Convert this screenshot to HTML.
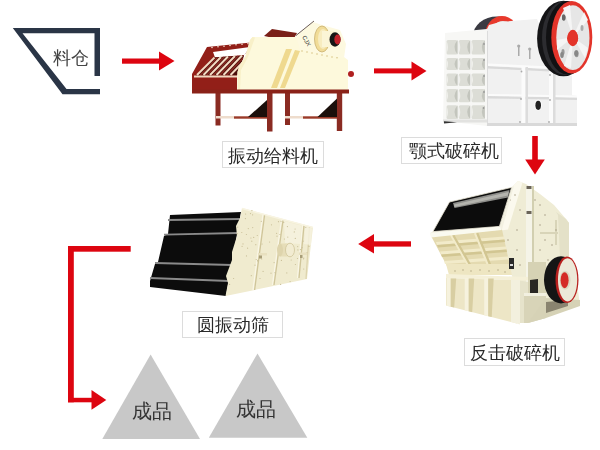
<!DOCTYPE html>
<html><head><meta charset="utf-8">
<style>
html,body{margin:0;padding:0;background:#fff;width:600px;height:450px;overflow:hidden;}
body{position:relative;font-family:"Liberation Sans",sans-serif;}
.lbl{position:absolute;box-sizing:border-box;border:1px solid #dcdcdc;background:#fff;color:#2a2a2a;font-size:18px;line-height:1;text-align:center;white-space:nowrap;}
.lbl span{position:absolute;left:0;right:0;will-change:transform;}
.t{position:absolute;color:#333;font-size:16px;line-height:1;white-space:nowrap;will-change:transform;}
svg{position:absolute;left:0;top:0;}
</style></head><body>
<svg width="600" height="450" viewBox="0 0 600 450">
  <!-- hopper -->
  <g fill="#2a3546">
    <polygon points="12.8,28 100,28 100,33.2 22.5,33.2 66.5,89 100,89 100,94.2 62.5,94.2"/>
    <rect x="94.5" y="28" width="5.5" height="48"/>
  </g>
  <!-- arrows -->
  <g fill="#dd0510">
    <rect x="122" y="58.5" width="38" height="5.2"/>
    <polygon points="159,51.5 174.5,61 159,70.5"/>
    <rect x="374" y="68.4" width="38" height="5"/>
    <polygon points="411.5,61.4 426.5,71 411.5,80.4"/>
    <rect x="532.2" y="136" width="5.6" height="24"/>
    <polygon points="525.2,159.4 544.8,159.4 535,174.5"/>
    <rect x="373.5" y="241.3" width="37.5" height="5.3"/>
    <polygon points="374,234 358.2,244 374,253.6"/>
    <rect x="68" y="246" width="62.7" height="5.7"/>
    <rect x="68" y="246" width="5.8" height="156.3"/>
    <rect x="68" y="397.8" width="24" height="4.5"/>
    <polygon points="91.5,390 106.3,400 91.5,409.8"/>
  </g>

  <!-- FEEDER -->
  <g id="feeder">
    <!-- legs -->
    <g fill="#8a2b22">
      <rect x="215.5" y="92" width="5" height="33.5"/>
      <rect x="267" y="92" width="5.5" height="39.5"/>
      <rect x="285" y="92" width="5" height="33"/>
      <rect x="336.8" y="92" width="5.4" height="39"/>
    </g>
    <g fill="#eedccc">
      <rect x="216" y="116" width="18" height="2.5"/>
      <rect x="285" y="116" width="18" height="2.5"/>
    </g>
    <g fill="#9a3a28">
      <rect x="234" y="116.3" width="33" height="2.4"/>
      <rect x="303" y="116.3" width="34" height="2.4"/>
    </g>
    <g fill="#1a0f0b">
      <polygon points="248,117 267,100 267,117"/>
      <polygon points="317.5,117 337,98.4 337,117"/>
    </g>
    <!-- red trough -->
    <polygon fill="#921f18" points="192,74 207,47 251,42.5 251,48 244,55 237,76 237,90 192,90"/>
    <polygon fill="#fff" points="213,52 250,47 244.5,55 215,57.5"/>
    <polygon fill="#4a0e0a" points="196,75.5 213,57.5 244,55.5 237,75.5"/>
    <g stroke="#f3dcc4" stroke-width="2" stroke-linecap="butt">
      <line x1="197" y1="75" x2="214.5" y2="57.5"/>
      <line x1="203.5" y1="75" x2="221" y2="57"/>
      <line x1="210" y1="75" x2="228" y2="56.5"/>
      <line x1="216.5" y1="75" x2="235" y2="56"/>
      <line x1="223.5" y1="75" x2="242" y2="55.5"/>
      <line x1="230.5" y1="75" x2="244" y2="61"/>
    </g>
    <g stroke="#8c2a22" stroke-width="1.3">
      <line x1="200" y1="75.5" x2="217.5" y2="57.5"/>
      <line x1="206.5" y1="75.5" x2="224" y2="57"/>
      <line x1="213" y1="75.5" x2="231" y2="56.5"/>
      <line x1="219.5" y1="75.5" x2="238" y2="56"/>
      <line x1="226.5" y1="75.5" x2="243" y2="58"/>
    </g>
    <rect x="194" y="75.5" width="43" height="2" fill="#f0d8c0"/>
    <g fill="#f5e3d0">
      <circle cx="212" cy="47.5" r="0.8"/><circle cx="218" cy="46.8" r="0.8"/><circle cx="224" cy="46.2" r="0.8"/>
      <circle cx="230" cy="45.5" r="0.8"/><circle cx="236" cy="44.8" r="0.8"/><circle cx="242" cy="44.2" r="0.8"/><circle cx="248" cy="43.6" r="0.8"/>
    </g>
    <!-- rear plate -->
    <polygon fill="#7a2018" points="264,36 272,29 297,33 292,42"/>
    <!-- cream body -->
    <polygon fill="#fdf9dc" points="237.5,72 239,67 245.5,56 250,40 252.5,37 296,37 344,57 348,60 348,90 237.5,90"/>
    <polygon fill="#f8f0c8" points="237.5,72 239,67 245.5,56 250,40 252.5,37 255,37.5 248,57 241,70 240,90 237.5,90"/>
    <!-- diagonal stripes -->
    <polygon fill="#efd98f" points="271,88 286,49 292,49 277,88"/>
    <polygon fill="#efd98f" points="280,88 295,50 300,51 285,88"/>
    <!-- motor -->
    <polygon fill="#fdf9e0" points="296,36 313,22 322,25 340,30 346,44 344,58 300,50"/>
    <line x1="296" y1="35.5" x2="314" y2="21" stroke="#5a4a44" stroke-width="0.9"/>
    <ellipse cx="322" cy="39" rx="7.5" ry="13" fill="#f1dc98" stroke="#c9b070" stroke-width="0.8"/>
    <ellipse cx="323" cy="39" rx="5" ry="10" fill="#f7ecc0"/>
    <rect x="322" y="31" width="12" height="16" fill="#fbf5d6"/>
    <ellipse cx="335" cy="39.5" rx="5.5" ry="7.2" fill="#161616"/>
    <ellipse cx="337.5" cy="39.5" rx="3.2" ry="5" fill="#c0202a"/>
    <text x="303" y="41" font-size="6" fill="#333" font-family="Liberation Sans" transform="rotate(60 306 38)">CJX</text>
    <g fill="#d8c48a">
      <circle cx="302" cy="51" r="0.8"/><circle cx="307" cy="52" r="0.8"/><circle cx="312" cy="53" r="0.8"/><circle cx="317" cy="54" r="0.8"/>
      <circle cx="322" cy="55" r="0.8"/><circle cx="327" cy="56" r="0.8"/><circle cx="332" cy="57" r="0.8"/><circle cx="337" cy="57.8" r="0.8"/>
    </g>
    <circle cx="351" cy="74" r="3" fill="#b02020"/>
    <!-- bottom rail -->
    <rect x="192" y="89.5" width="157" height="4" fill="#8a2218"/>
  </g>

  <!-- JAW CRUSHER -->
  <g id="jaw">
    <!-- small back flywheel -->
    <ellipse cx="497" cy="36" rx="24" ry="19.5" fill="#3a3a42"/>
    <ellipse cx="502" cy="35.5" rx="17" ry="19.5" fill="#e8392c"/>
    <ellipse cx="503" cy="37" rx="13.5" ry="16" fill="#e6e6e6"/>
    <!-- side body -->
    <polygon fill="#f1f1f1" points="486,31 489,25 500,22 537,19 560,72 572,76 572,95 577,96 577,126 486,126"/>
    <g fill="#d9d9d9">
      <polygon points="488,66 572,70 572,72.5 488,68.5"/>
      <polygon points="488,96 577,97.5 577,100 488,98.5"/>
      <rect x="486" y="123" width="91" height="3"/>
    </g>
    <g fill="#fbfbfb">
      <polygon points="488,63.5 572,67.5 572,70 488,66"/>
      <polygon points="488,94 577,95.5 577,97.5 488,96"/>
      <rect x="521.5" y="67" width="4" height="56"/>
      <rect x="549" y="71" width="4" height="52"/>
    </g>
    <g fill="#dcdcdc">
      <rect x="525.5" y="67" width="2.5" height="56"/>
      <rect x="553" y="71" width="2.5" height="52"/>
      <rect x="486" y="31" width="2" height="92"/>
    </g>
    <g fill="#aaa">
      <rect x="518" y="46" width="1.5" height="10"/><circle cx="518.7" cy="46" r="1.6"/>
      <rect x="529" y="49" width="1.5" height="10"/><circle cx="529.7" cy="49" r="1.6"/>
      <circle cx="521.5" cy="71.5" r="0.9"/><circle cx="550" cy="75" r="0.9"/><circle cx="521" cy="99" r="0.9"/><circle cx="550" cy="100" r="0.9"/>
      <circle cx="520" cy="122" r="0.9"/><circle cx="549" cy="122" r="0.9"/>
    </g>
    <ellipse cx="538.2" cy="105" rx="3.8" ry="5.6" fill="#fafafa"/>
    <ellipse cx="538.2" cy="105.3" rx="2.8" ry="4.6" fill="#222"/>
    <!-- front grid face -->
    <polygon fill="#f7f7f5" points="445,33 487,29 487,126 443,121"/>
    <g>
      <rect x="446.5" y="40" width="11.0" height="14.5" rx="1.5" fill="#dcddd6"/>
      <path d="M457.5,40 Q451.5,47.2 457.5,54.5 Z" fill="#c3c5bd"/>
      <path d="M446.5,41 Q449.5,47.2 446.5,53.5 Z" fill="#f0f0ec"/>
      <rect x="458.8" y="40" width="11.4" height="14.5" rx="1.5" fill="#dcddd6"/>
      <path d="M470.2,40 Q464.2,47.2 470.2,54.5 Z" fill="#c3c5bd"/>
      <path d="M458.8,41 Q461.8,47.2 458.8,53.5 Z" fill="#f0f0ec"/>
      <rect x="471.5" y="40" width="13.3" height="14.5" rx="1.5" fill="#dcddd6"/>
      <path d="M484.8,40 Q478.8,47.2 484.8,54.5 Z" fill="#c3c5bd"/>
      <path d="M471.5,41 Q474.5,47.2 471.5,53.5 Z" fill="#f0f0ec"/>
      <rect x="446.5" y="58" width="11.0" height="12.0" rx="1.5" fill="#dcddd6"/>
      <path d="M457.5,58 Q451.5,64.0 457.5,70 Z" fill="#c3c5bd"/>
      <path d="M446.5,59 Q449.5,64.0 446.5,69 Z" fill="#f0f0ec"/>
      <rect x="458.8" y="58" width="11.4" height="12.0" rx="1.5" fill="#dcddd6"/>
      <path d="M470.2,58 Q464.2,64.0 470.2,70 Z" fill="#c3c5bd"/>
      <path d="M458.8,59 Q461.8,64.0 458.8,69 Z" fill="#f0f0ec"/>
      <rect x="471.5" y="58" width="13.3" height="12.0" rx="1.5" fill="#dcddd6"/>
      <path d="M484.8,58 Q478.8,64.0 484.8,70 Z" fill="#c3c5bd"/>
      <path d="M471.5,59 Q474.5,64.0 471.5,69 Z" fill="#f0f0ec"/>
      <rect x="446.5" y="73.5" width="11.0" height="12.5" rx="1.5" fill="#dcddd6"/>
      <path d="M457.5,73.5 Q451.5,79.8 457.5,86 Z" fill="#c3c5bd"/>
      <path d="M446.5,74.5 Q449.5,79.8 446.5,85 Z" fill="#f0f0ec"/>
      <rect x="458.8" y="73.5" width="11.4" height="12.5" rx="1.5" fill="#dcddd6"/>
      <path d="M470.2,73.5 Q464.2,79.8 470.2,86 Z" fill="#c3c5bd"/>
      <path d="M458.8,74.5 Q461.8,79.8 458.8,85 Z" fill="#f0f0ec"/>
      <rect x="471.5" y="73.5" width="13.3" height="12.5" rx="1.5" fill="#dcddd6"/>
      <path d="M484.8,73.5 Q478.8,79.8 484.8,86 Z" fill="#c3c5bd"/>
      <path d="M471.5,74.5 Q474.5,79.8 471.5,85 Z" fill="#f0f0ec"/>
      <rect x="446.5" y="89" width="11.0" height="13.3" rx="1.5" fill="#dcddd6"/>
      <path d="M457.5,89 Q451.5,95.7 457.5,102.3 Z" fill="#c3c5bd"/>
      <path d="M446.5,90 Q449.5,95.7 446.5,101.3 Z" fill="#f0f0ec"/>
      <rect x="458.8" y="89" width="11.4" height="13.3" rx="1.5" fill="#dcddd6"/>
      <path d="M470.2,89 Q464.2,95.7 470.2,102.3 Z" fill="#c3c5bd"/>
      <path d="M458.8,90 Q461.8,95.7 458.8,101.3 Z" fill="#f0f0ec"/>
      <rect x="471.5" y="89" width="13.3" height="13.3" rx="1.5" fill="#dcddd6"/>
      <path d="M484.8,89 Q478.8,95.7 484.8,102.3 Z" fill="#c3c5bd"/>
      <path d="M471.5,90 Q474.5,95.7 471.5,101.3 Z" fill="#f0f0ec"/>
      <rect x="446.5" y="105.2" width="11.0" height="13.8" rx="1.5" fill="#dcddd6"/>
      <path d="M457.5,105.2 Q451.5,112.1 457.5,119 Z" fill="#c3c5bd"/>
      <path d="M446.5,106.2 Q449.5,112.1 446.5,118 Z" fill="#f0f0ec"/>
      <rect x="458.8" y="105.2" width="11.4" height="13.8" rx="1.5" fill="#dcddd6"/>
      <path d="M470.2,105.2 Q464.2,112.1 470.2,119 Z" fill="#c3c5bd"/>
      <path d="M458.8,106.2 Q461.8,112.1 458.8,118 Z" fill="#f0f0ec"/>
      <rect x="471.5" y="105.2" width="13.3" height="13.8" rx="1.5" fill="#dcddd6"/>
      <path d="M484.8,105.2 Q478.8,112.1 484.8,119 Z" fill="#c3c5bd"/>
      <path d="M471.5,106.2 Q474.5,112.1 471.5,118 Z" fill="#f0f0ec"/>
    </g>
    <rect x="443" y="119.5" width="44" height="3" fill="#e2e2e0"/>
    <polygon fill="#333" points="444,121.3 457,122.3 444,123.5"/>
    <g fill="#999"><circle cx="484" cy="44" r="0.9"/><circle cx="484" cy="60" r="0.9"/><circle cx="484" cy="76" r="0.9"/><circle cx="484" cy="92" r="0.9"/><circle cx="483.5" cy="108" r="0.9"/></g>
    <!-- flywheel -->
    <ellipse cx="563.5" cy="38.5" rx="26.4" ry="37.8" fill="#141416"/>
    <ellipse cx="565" cy="38" rx="23" ry="37" fill="#2c2c30"/>
    <ellipse cx="567" cy="37.6" rx="21" ry="36.6" fill="#111113"/>
    <ellipse cx="571.8" cy="37.2" rx="20.5" ry="36.3" fill="#e3342a"/>
    <ellipse cx="572.9" cy="37.7" rx="16.6" ry="32.4" fill="#e6e6e6"/>
    <g fill="#f5f5f5">
      <polygon points="573,37 563,8 570,5"/>
      <polygon points="573,37 584,12 588,20"/>
      <polygon points="573,37 588,48 585,58"/>
      <polygon points="573,37 571,68 564,66"/>
      <polygon points="573,37 557,50 557,40"/>
    </g>
    <ellipse cx="563.6" cy="17.3" rx="1.6" ry="3" fill="#777"/>
    <ellipse cx="576.6" cy="53.7" rx="2" ry="3.5" fill="#999"/>
    <ellipse cx="563" cy="52" rx="1.6" ry="3" fill="#999"/>
    <ellipse cx="582" cy="28" rx="1.5" ry="3" fill="#aaa"/>
    <ellipse cx="572.8" cy="38" rx="5.2" ry="8.2" fill="#e3342a"/>
    <g fill="#b02020"><circle cx="572" cy="35" r="0.8"/><circle cx="574.5" cy="38" r="0.8"/><circle cx="572" cy="41" r="0.8"/></g>
  </g>
    <ellipse cx="563.8" cy="17.8" rx="1.8" ry="3" fill="#666"/>
    <ellipse cx="576.2" cy="53.3" rx="2" ry="3" fill="#888"/>
    <ellipse cx="562" cy="55" rx="1.8" ry="3" fill="#888"/>
    <ellipse cx="572.6" cy="38.2" rx="5.5" ry="7.3" fill="#e3342a"/>
  </g>
  <!-- IMPACT CRUSHER -->
  <g id="impact">
    <!-- side panel -->
    <polygon fill="#efecd5" points="497,231 512,187 518,181 526,184 540,194 554,205 566,219 569,223 569,258 578,290 580,306 534,297 534,320 517,323 513,279"/>
    <polygon fill="#fbf9ee" points="498,231 511.6,187.4 518,181 522.5,182.5 508,229.5"/>
    <polygon fill="#e4e1c8" points="556,212 566,219 569,223 569,258 560,258 558,215"/>
    <rect x="526" y="186" width="6" height="100" fill="#f5f4e8"/>
    <rect x="532" y="186" width="2" height="100" fill="#d2cfb0"/>
    <rect x="526.5" y="186" width="5" height="3" fill="#6a6458"/>
    <rect x="526.5" y="211" width="5" height="3" fill="#6a6458"/>
    <rect x="540" y="232" width="18" height="2" fill="#d8d4b8"/>
    <rect x="555" y="220" width="2" height="25" fill="#d8d4b8"/>
    <g fill="#a8a088"><circle cx="505" cy="215" r="0.8"/><circle cx="510" cy="200" r="0.8"/><circle cx="508" cy="240" r="0.8"/><circle cx="517" cy="230" r="0.8"/><circle cx="517" cy="250" r="0.8"/><circle cx="540" cy="205" r="0.8"/><circle cx="545" cy="215" r="0.8"/><circle cx="540" cy="225" r="0.8"/><circle cx="545" cy="240" r="0.8"/><circle cx="540" cy="250" r="0.8"/><circle cx="520" cy="210" r="0.8"/><circle cx="537" cy="265" r="0.8"/><circle cx="548" cy="260" r="0.8"/><circle cx="520" cy="265" r="0.8"/><circle cx="515" cy="195" r="0.8"/><circle cx="535" cy="200" r="0.8"/><circle cx="552" cy="245" r="0.8"/><circle cx="556" cy="230" r="0.8"/></g>
    <!-- lower right step -->
    <polygon fill="#e6e3cb" points="517,280 528,282 528,323 517,323"/>
    <polygon fill="#d8d4b8" points="524,294.5 546,294.5 546,318 528,323 524,323"/>
    <polygon fill="#f2f0e0" points="524,293 546,293 546,296 524,296"/>
    <polygon fill="#d6d2b6" points="528,323 546,318 580,306 580,300 546,298"/>
    <polygon fill="#8a8470" points="546,302 568,300 568,306 546,313"/>
    <!-- black opening + frame -->
    <polygon fill="#f3f1e2" points="430,233 432.9,231.6 499.4,226.4 511.6,187.4 514,186 502,229.5 431,236"/>
    <polygon fill="#0c0c0c" points="449.5,202 511.6,187.4 499.4,226.4 432.9,231.6" stroke="#e8e4d4" stroke-width="0.8"/>
    <polygon fill="#8e8e8a" points="453,203 509.5,190 508,197.5 454.5,208"/>
    <polygon fill="#b4b4ae" points="454,204.5 508.5,192 508,195.5 454.5,207"/>
    <!-- front ribbed panel -->
    <polygon fill="#e4dab0" points="431,236 502,229.5 510,266 447,266"/>
    <g fill="#f2ebca">
      <polygon points="436,242 504,236.5 504.5,239.5 437,245"/>
      <polygon points="440,251.5 506,246.5 506.5,249.5 441,254.5"/>
      <polygon points="444,261 508,256.5 508.5,259.5 445,264"/>
    </g>
    <g fill="#d2c692">
      <polygon points="437,245 504.5,239.5 505,242 438,247.5"/>
      <polygon points="441,254.5 506.5,249.5 507,252 442,257"/>
    </g>
    <g stroke-width="2.2">
      <line x1="451" y1="235" x2="468" y2="265" stroke="#f2ebca"/>
      <line x1="453.2" y1="235" x2="470.2" y2="265" stroke="#d2c692"/>
      <line x1="475" y1="233" x2="488" y2="265" stroke="#f2ebca"/>
      <line x1="477.2" y1="233" x2="490.2" y2="265" stroke="#d2c692"/>
    </g>
    <polygon fill="#eee6c2" points="446,264 509.5,264 512,275 449,275"/>
    <g fill="#b8ae88"><circle cx="455" cy="271" r="0.8"/><circle cx="463" cy="270" r="0.8"/><circle cx="471" cy="271" r="0.8"/><circle cx="480" cy="270" r="0.8"/><circle cx="489" cy="271" r="0.8"/><circle cx="498" cy="270" r="0.8"/><circle cx="505" cy="272" r="0.8"/></g>
    <polygon fill="#fafaf0" points="430,233 500,226.5 501.5,230 431,237.5"/>
    <!-- ledge -->
    <polygon fill="#f5f0d8" points="446,274 513,276.5 530,277 530,280.5 513,280 446,278"/>
    <!-- base -->
    <polygon fill="#ede6c6" points="446,278 513,280 517,280 517,323.6 446,305.5"/>
    <polygon fill="#f6f2de" points="446.7,278 450.7,278 450.7,306.7 446.7,305.7"/>
    <polygon fill="#d8cea2" points="450.7,278.5 456.2,278.5 454.2,307.6 450.7,306.7"/>
    <polygon fill="#f6f2de" points="464.7,278 468.7,278 468.7,311.3 464.7,310.3"/>
    <polygon fill="#d8cea2" points="468.7,278.5 474.2,278.5 472.2,312.2 468.7,311.3"/>
    <polygon fill="#f6f2de" points="484.2,278 488.2,278 488.2,316.3 484.2,315.2"/>
    <polygon fill="#d8cea2" points="488.2,278.5 493.7,278.5 491.7,317.1 488.2,316.3"/>
    <polygon fill="#f3f0de" points="511,280 520,280 520,324.4 511,322.1"/>
    <rect x="509" y="258" width="5" height="11" fill="#2a2a2a"/><rect x="510" y="264" width="3" height="2" fill="#ddd"/>
    <!-- flywheel -->
    <polygon fill="#d6d2b4" points="528,262 546,262 546,293 528,293"/>
    <polygon fill="#2a2824" points="530,280 538,279 538,293 530,293"/>
    <ellipse cx="561" cy="279.8" rx="17" ry="23.6" fill="#151515"/>
    <ellipse cx="567" cy="279.8" rx="11.5" ry="23.2" fill="#b8201e"/>
    <ellipse cx="567.6" cy="279.8" rx="9.6" ry="21.6" fill="#ece9d8"/>
    <ellipse cx="565" cy="280.2" rx="5.5" ry="9.5" fill="#dcd8c2"/>
    <ellipse cx="564.6" cy="280.2" rx="4" ry="8" fill="#d42a26"/>
  </g>
  <!-- SCREEN -->
  <g id="screen">
    <polygon fill="#0c0c0c" points="170,215 241,212 226,296 150,287 150,281 155,264 158,262 164,236 168,234"/>
    <g stroke="#8a8a8a" stroke-width="1.8">
      <line x1="168" y1="220" x2="240" y2="219"/>
      <line x1="164" y1="234.6" x2="238" y2="233"/>
      <line x1="155" y1="263" x2="232" y2="265"/>
      <line x1="150" y1="278" x2="229" y2="281"/>
    </g>
    <polygon fill="#f0ebcf" points="242,208 313,227 307,279 225.5,296 228,283 226,276 232,260 232,252 237,236 236,226 240,218"/>
    <g stroke-width="1.3">
      <line x1="263" y1="214.5" x2="253" y2="290" stroke="#f9f6e6"/>
      <line x1="264.6" y1="215" x2="254.6" y2="290" stroke="#cfc59a"/>
      <line x1="281.5" y1="220" x2="272.5" y2="285" stroke="#f9f6e6"/>
      <line x1="283" y1="220.5" x2="274" y2="285" stroke="#cfc59a"/>
      <line x1="302.5" y1="225" x2="297.5" y2="278" stroke="#f9f6e6"/>
      <line x1="304" y1="225.5" x2="299" y2="278" stroke="#cfc59a"/>
      <line x1="309.5" y1="227" x2="306" y2="279" stroke="#ddd4ae"/>
      <line x1="242" y1="208.5" x2="313" y2="227.5" stroke="#f8f4e2"/>
    </g>
    <polygon fill="#f6f3e0" opacity="0.8" points="284,221 301,225.5 300,244 285,243"/>
    <polygon fill="#f6f3e0" opacity="0.8" points="305,226.5 312,228.5 311,245 304,244"/>
    <g fill="#c9bf98"><circle cx="246.5" cy="255.9" r="0.6"/><circle cx="257.8" cy="261.1" r="0.6"/><circle cx="248.3" cy="228.6" r="0.6"/><circle cx="297.9" cy="249.9" r="0.6"/><circle cx="281.0" cy="221.3" r="0.6"/><circle cx="280.6" cy="284.4" r="0.6"/><circle cx="271.0" cy="273.2" r="0.6"/><circle cx="291.2" cy="260.0" r="0.6"/><circle cx="251.9" cy="210.7" r="0.6"/><circle cx="300.4" cy="249.6" r="0.6"/><circle cx="260.0" cy="278.5" r="0.6"/><circle cx="237.7" cy="227.1" r="0.6"/><circle cx="309.0" cy="246.4" r="0.6"/><circle cx="279.9" cy="234.5" r="0.6"/><circle cx="269.6" cy="242.0" r="0.6"/><circle cx="256.2" cy="259.5" r="0.6"/><circle cx="283.7" cy="222.4" r="0.6"/><circle cx="303.8" cy="258.1" r="0.6"/><circle cx="287.4" cy="226.6" r="0.6"/><circle cx="297.5" cy="258.5" r="0.6"/><circle cx="250.5" cy="213.6" r="0.6"/><circle cx="233.6" cy="278.5" r="0.6"/><circle cx="261.3" cy="221.3" r="0.6"/><circle cx="251.3" cy="275.7" r="0.6"/><circle cx="287.8" cy="237.1" r="0.6"/><circle cx="252.6" cy="214.8" r="0.6"/><circle cx="243.0" cy="243.9" r="0.6"/><circle cx="278.5" cy="221.7" r="0.6"/><circle cx="229.6" cy="284.4" r="0.6"/><circle cx="303.1" cy="241.2" r="0.6"/><circle cx="265.6" cy="253.8" r="0.6"/><circle cx="281.4" cy="260.4" r="0.6"/><circle cx="274.1" cy="262.6" r="0.6"/><circle cx="306.9" cy="252.6" r="0.6"/><circle cx="263.1" cy="271.4" r="0.6"/><circle cx="246.4" cy="234.5" r="0.6"/><circle cx="261.7" cy="259.0" r="0.6"/><circle cx="280.0" cy="249.0" r="0.6"/><circle cx="284.4" cy="239.0" r="0.6"/><circle cx="286.8" cy="272.9" r="0.6"/><circle cx="247.6" cy="248.2" r="0.6"/><circle cx="277.0" cy="236.2" r="0.6"/><circle cx="257.3" cy="235.5" r="0.6"/><circle cx="257.7" cy="260.4" r="0.6"/><circle cx="251.8" cy="241.2" r="0.6"/><circle cx="275.0" cy="272.7" r="0.6"/><circle cx="252.7" cy="227.6" r="0.6"/><circle cx="295.1" cy="229.0" r="0.6"/><circle cx="242.1" cy="246.3" r="0.6"/><circle cx="253.7" cy="237.4" r="0.6"/><circle cx="297.7" cy="246.6" r="0.6"/><circle cx="255.0" cy="265.2" r="0.6"/><circle cx="302.1" cy="247.7" r="0.6"/><circle cx="245.4" cy="218.6" r="0.6"/><circle cx="271.5" cy="224.8" r="0.6"/><circle cx="241.8" cy="232.5" r="0.6"/><circle cx="295.4" cy="264.5" r="0.6"/><circle cx="295.3" cy="238.4" r="0.6"/><circle cx="237.2" cy="233.7" r="0.6"/><circle cx="294.3" cy="231.9" r="0.6"/><circle cx="255.8" cy="244.7" r="0.6"/><circle cx="262.1" cy="244.0" r="0.6"/><circle cx="305.8" cy="227.5" r="0.6"/><circle cx="290.1" cy="281.6" r="0.6"/><circle cx="283.0" cy="253.7" r="0.6"/><circle cx="250.9" cy="238.0" r="0.6"/><circle cx="245.6" cy="214.0" r="0.6"/><circle cx="276.6" cy="233.3" r="0.6"/><circle cx="303.7" cy="269.0" r="0.6"/><circle cx="303.4" cy="258.8" r="0.6"/></g>
    <rect x="280" y="243.5" width="10" height="13" fill="#e6ddb8"/>
    <ellipse cx="280" cy="250" rx="3" ry="6.5" fill="#ded4ac"/>
    <ellipse cx="290" cy="250" rx="4.5" ry="6.8" fill="#f2ecd2" stroke="#cfc59a" stroke-width="0.8"/>
    <rect x="258" y="253" width="9" height="2.5" fill="#e8e0bf"/>
    <rect x="259" y="255.5" width="3" height="3" fill="#a89e78"/>
    <rect x="299" y="252.5" width="8" height="2.5" fill="#e8e0bf"/>
    <rect x="300" y="255" width="2.5" height="3" fill="#a89e78"/>
  </g>
  <!-- triangles -->
  <g fill="#c8c8c8">
    <polygon points="150.6,354.6 200,439 102.3,439"/>
    <polygon points="257.5,353.4 307.3,437.7 208.8,437.7"/>
  </g>
</svg>
<div class="t" style="left:53.1px;top:49.3px;font-size:18px;color:#444">料仓</div>
<div class="lbl" style="left:222px;top:141px;width:102px;height:27px;"><span style="top:5px">振动给料机</span></div>
<div class="lbl" style="left:401px;top:136.5px;width:101px;height:27px;"><span style="top:4px;left:5px">颚式破碎机</span></div>
<div class="lbl" style="left:181.5px;top:310.5px;width:101px;height:27px;"><span style="top:4.5px">圆振动筛</span></div>
<div class="lbl" style="left:464px;top:338px;width:101px;height:28px;"><span style="top:5px">反击破碎机</span></div>
<div class="t" style="left:131.5px;top:401px;font-size:20px;color:#333">成品</div>
<div class="t" style="left:235.5px;top:398.5px;font-size:20px;color:#333">成品</div>
</body></html>
